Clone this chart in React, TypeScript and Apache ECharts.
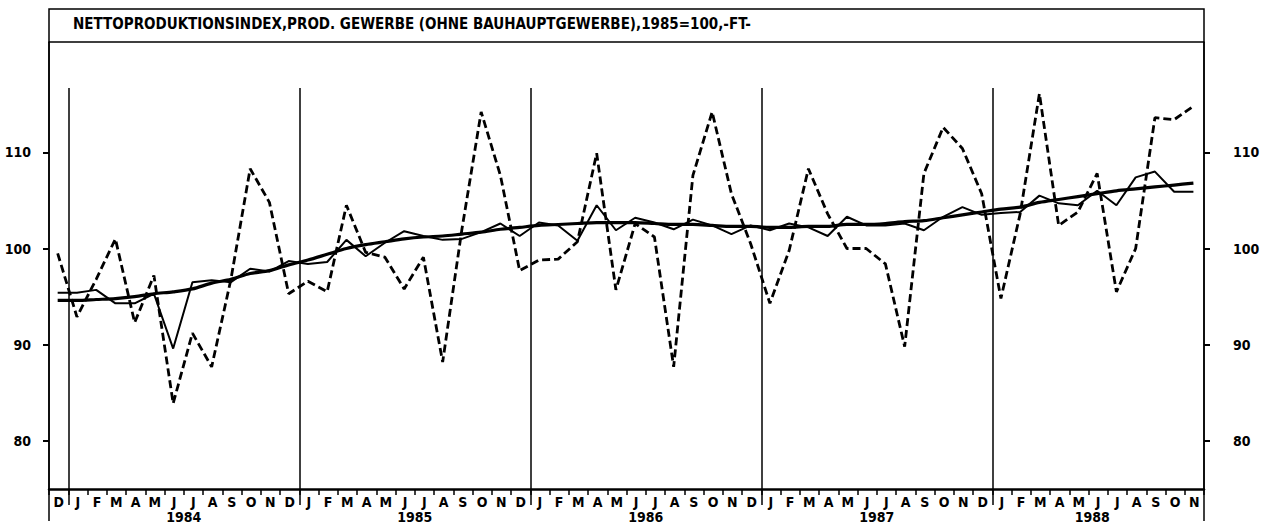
import React, { useEffect, useRef } from "react";
import * as echarts from "echarts";

const TITLE = "NETTOPRODUKTIONSINDEX,PROD. GEWERBE (OHNE BAUHAUPTGEWERBE),1985=100,-FT-";
const MONTH_LETTERS = ["J", "F", "M", "A", "M", "J", "J", "A", "S", "O", "N", "D"];
const YEARS = ["1984", "1985", "1986", "1987", "1988"];
// Dec 1983 .. Nov 1988 (60 months)
const monthLabels: string[] = ["D"];
YEARS.forEach((y, k) => {
  const n = k === YEARS.length - 1 ? 11 : 12;
  for (let m = 0; m < n; m++) monthLabels.push(MONTH_LETTERS[m]);
});
const yearStarts = [1, 13, 25, 37, 49];
const yearCenters = [7, 19, 31, 43, 54.2];

const original = [
  99.5, 92.9, 96.8, 101.0, 92.3, 97.2, 83.9, 91.2, 87.7, 96.8, 108.3, 104.8,
  95.3, 96.6, 95.5, 104.5, 99.6, 99.1, 95.8, 99.1, 88.2, 102.0, 114.2, 107.6,
  97.7, 98.8, 98.9, 100.7, 109.9, 95.7, 102.6, 101.2, 87.7, 107.6, 114.2, 105.7,
  100.5, 94.3, 99.8, 108.3, 103.6, 100.0, 100.0, 98.4, 89.8, 107.8, 112.6, 110.4,
  105.7, 94.8, 103.6, 116.1, 102.4, 103.8, 107.8, 95.5, 100.0, 113.6, 113.4, 114.8,
];
const adjusted = [
  95.4, 95.4, 95.7, 94.3, 94.3, 95.3, 89.6, 96.5, 96.7, 96.5, 97.9, 97.6,
  98.7, 98.4, 98.6, 100.9, 99.2, 100.6, 101.8, 101.3, 100.9, 101.0, 101.7, 102.6,
  101.3, 102.7, 102.4, 100.8, 104.5, 101.9, 103.2, 102.7, 102.0, 103.0, 102.4, 101.5,
  102.4, 101.9, 102.6, 102.2, 101.3, 103.3, 102.4, 102.4, 102.6, 101.9, 103.3, 104.3,
  103.5, 103.7, 103.8, 105.5, 104.7, 104.5, 106.0, 104.5, 107.4, 108.0, 105.9, 105.9,
];
const trend = [
  94.6, 94.6, 94.7, 94.8, 95.0, 95.3, 95.5, 95.8, 96.4, 96.8, 97.4, 97.7,
  98.3, 98.8, 99.4, 100.0, 100.4, 100.7, 101.0, 101.2, 101.3, 101.5, 101.7, 102.0,
  102.2, 102.4, 102.5, 102.6, 102.7, 102.7, 102.7, 102.6, 102.5, 102.5, 102.4, 102.3,
  102.3, 102.2, 102.2, 102.3, 102.3, 102.5, 102.5, 102.6, 102.8, 102.9, 103.2, 103.5,
  103.8, 104.1, 104.3, 104.8, 105.1, 105.4, 105.7, 106.0, 106.2, 106.4, 106.6, 106.8,
];
const yTicks = [80, 90, 100, 110];
const Y_MIN = 75;
const Y_MAX = 121.47;
const DIVIDER_TOP = 116.7;

const FONT = "DejaVu Sans Condensed";

const toXY = (arr: number[]) => arr.map((v, i) => [i + 0.45, v]);

export default function App() {
  const ref = useRef<HTMLDivElement>(null);
  useEffect(() => {
    if (!ref.current) return;
    const chart = echarts.init(ref.current, undefined, { renderer: "svg" });
    const black = "#000";
    const labelStyle = {
      customValues: yTicks,
      color: black,
      fontFamily: FONT,
      fontWeight: "bold",
      fontSize: 14,
    };
    chart.setOption({
      animation: false,
      title: {
        text: TITLE,
        left: 73,
        top: 16,
        padding: 0,
        textStyle: { fontFamily: FONT, fontWeight: "bold", fontSize: 15, color: black },
      },
      grid: { left: 49, right: 63, top: 42, bottom: 35, containLabel: false },
      xAxis: [
        {
          type: "category",
          data: monthLabels,
          boundaryGap: true,
          position: "bottom",
          axisLine: { show: true, lineStyle: { color: black, width: 2.5 } },
          axisTick: { show: true, length: 6, lineStyle: { color: black, width: 1.5 } },
          axisLabel: {
            interval: 0,
            margin: 6,
            color: black,
            fontFamily: FONT,
            fontWeight: "bold",
            fontSize: 14,
          },
          splitLine: { show: false },
        },
        {
          type: "value",
          min: 0,
          max: monthLabels.length,
          position: "bottom",
          axisLine: { show: false },
          axisTick: { show: true, customValues: yearStarts, length: 16, lineStyle: { color: black, width: 1.5 } },
          axisLabel: {
            customValues: yearCenters,
            formatter: (v: number) => YEARS[yearCenters.indexOf(v)] ?? "",
            margin: 21,
            color: black,
            fontFamily: FONT,
            fontWeight: "bold",
            fontSize: 14,
          },
          splitLine: { show: false },
        },
      ],
      yAxis: [
        {
          type: "value",
          position: "left",
          min: Y_MIN,
          max: Y_MAX,
          axisLine: { show: true, lineStyle: { color: black, width: 1.5 } },
          axisTick: { show: true, customValues: yTicks, length: 6, lineStyle: { color: black, width: 2 } },
          axisLabel: { ...labelStyle, margin: 18, align: "right" },
          splitLine: { show: false },
        },
        {
          type: "value",
          position: "right",
          min: Y_MIN,
          max: Y_MAX,
          axisLine: { show: true, lineStyle: { color: black, width: 1.5 } },
          axisTick: { show: true, customValues: yTicks, length: 6, lineStyle: { color: black, width: 2 } },
          axisLabel: { ...labelStyle, margin: 29, align: "left" },
          splitLine: { show: false },
        },
      ],
      series: [
        {
          type: "line",
          xAxisIndex: 1,
          yAxisIndex: 0,
          data: toXY(original),
          symbol: "none",
          lineStyle: { color: black, width: 2.8, type: [8, 4] },
          markLine: {
            silent: true,
            symbol: ["none", "none"],
            label: { show: false },
            lineStyle: { color: black, width: 1.5, type: "solid" },
            data: yearStarts.map((b) => [{ coord: [b, DIVIDER_TOP] }, { coord: [b, Y_MIN] }]),
          },
        },
        {
          type: "line",
          xAxisIndex: 1,
          yAxisIndex: 0,
          data: toXY(adjusted),
          symbol: "none",
          lineStyle: { color: black, width: 2 },
        },
        {
          type: "line",
          xAxisIndex: 1,
          yAxisIndex: 0,
          data: toXY(trend),
          symbol: "none",
          smooth: 0.3,
          lineStyle: { color: black, width: 3.2 },
        },
      ],
      graphic: [
        {
          type: "rect",
          shape: { x: 49, y: 9, width: 1155, height: 33 },
          style: { fill: "none", stroke: black, lineWidth: 1.5 },
        },
        {
          type: "line",
          shape: { x1: 49, y1: 42, x2: 49, y2: 521 },
          style: { stroke: black, lineWidth: 1.5 },
        },
        {
          type: "line",
          shape: { x1: 1204, y1: 42, x2: 1204, y2: 521 },
          style: { stroke: black, lineWidth: 1.5 },
        },
      ],
    });
    return () => chart.dispose();
  }, []);
  return <div ref={ref} style={{ width: 1267, height: 524, position: "absolute", left: 0, top: 0 }} />;
}
